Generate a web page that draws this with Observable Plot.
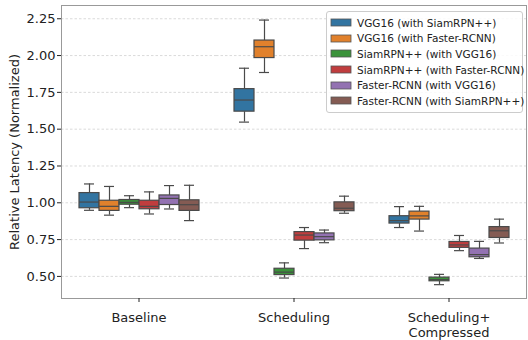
<!DOCTYPE html>
<html><head><meta charset="utf-8">
<script src="https://cdn.jsdelivr.net/npm/d3@7"></script>
<script src="https://cdn.jsdelivr.net/npm/@observablehq/plot@0.6"></script>
<style>
body{margin:0;background:#fff;font-family:"DejaVu Sans",sans-serif;}
#wrap{position:relative;width:528px;height:340px;}
#legend{position:absolute;left:326px;top:11px;width:197px;padding:3px 0 3px 4px;border:1px solid #ccc;border-radius:3px;background:rgba(255,255,255,0.85);box-sizing:border-box;font-family:"DejaVu Sans",sans-serif;font-size:10.5px;color:#222;}
#legend [class$="-swatch"]{height:15.6px;padding-bottom:0;margin:0;}
#legend *{overflow:visible !important;text-overflow:clip !important;white-space:nowrap;max-width:none !important;}
#legend svg{margin-right:6px;}
#legend svg rect{stroke:#555;stroke-width:0.8px;}
</style>
</head><body>
<div id="wrap"><div id="chart"></div><div id="legend"></div></div>
<script>
const groups = ["Baseline", "Scheduling", "Scheduling+\nCompressed"];
const series = ["VGG16 (with SiamRPN++)", "VGG16 (with Faster-RCNN)", "SiamRPN++ (with VGG16)", "SiamRPN++ (with Faster-RCNN)", "Faster-RCNN (with VGG16)", "Faster-RCNN (with SiamRPN++)"];
const colors = ["#3274a1", "#e1812c", "#3a923a", "#c03d3e", "#9372b2", "#845b53"];
const yTicks = [0.5, 0.75, 1.0, 1.25, 1.5, 1.75, 2.0, 2.25];

// [group][series]
const whiskerLow = [
  [0.949, 0.916, 0.967, 0.924, 0.958, 0.879],
  [1.548, 1.885, 0.489, 0.689, 0.729, 0.929],
  [0.832, 0.808, 0.444, 0.675, 0.622, 0.727]
];
const q1 = [
  [0.963, 0.945, 0.987, 0.956, 0.985, 0.945],
  [1.619, 1.983, 0.509, 0.743, 0.745, 0.943],
  [0.859, 0.886, 0.467, 0.694, 0.630, 0.761]
];
const medians = [
  [1.005, 0.976, 1.003, 0.976, 1.030, 0.987],
  [1.698, 2.060, 0.529, 0.781, 0.770, 0.963],
  [0.879, 0.911, 0.478, 0.714, 0.648, 0.810]
];
const q3 = [
  [1.066, 1.014, 1.019, 1.014, 1.050, 1.017],
  [1.772, 2.102, 0.552, 0.801, 0.792, 1.003],
  [0.909, 0.940, 0.492, 0.734, 0.689, 0.835]
];
const whiskerHigh = [
  [1.128, 1.111, 1.048, 1.074, 1.117, 1.119],
  [1.914, 2.241, 0.592, 0.832, 0.815, 1.045],
  [0.974, 0.976, 0.514, 0.778, 0.738, 0.889]
];

const rows = [];
groups.forEach((g, gi) => series.forEach((s, si) => rows.push({
  group: g, series: s,
  lo: whiskerLow[gi][si], q1: q1[gi][si], med: medians[gi][si], q3: q3[gi][si], hi: whiskerHigh[gi][si]
})));

const lineColor = "#4a4a4a";
const common = {fx: "group", x: "series"};

const plot = Plot.plot({
  width: 528, height: 340,
  marginLeft: 60, marginRight: 2, marginTop: 5, marginBottom: 42,
  style: {fontFamily: "DejaVu Sans, sans-serif", fontSize: "13px", color: "#222", background: "white"},
  fx: {domain: groups, padding: 0, label: null},
  x: {domain: series, paddingInner: 0.02, paddingOuter: 0.75, axis: null},
  y: {domain: [0.35, 2.34]},
  color: {domain: series, range: colors},
  marks: [
    Plot.gridY(yTicks, {stroke: "#d0d0d0", strokeOpacity: 1, strokeDasharray: "2.5,2", strokeWidth: 0.8}),
    Plot.frame({stroke: "#999", facet: "super"}),
    Plot.axisY(yTicks, {tickFormat: ".2f", fontSize: 13, label: "Relative Latency (Normalized)", labelAnchor: "center", labelArrow: "none", labelOffset: 52, tickSize: 4, tickPadding: 2}),
    Plot.axisFx({anchor: "bottom", fontSize: 13, label: null, tickSize: 4, tickPadding: 9, lineHeight: 1.15}),
    Plot.ruleX(rows, {...common, y1: "lo", y2: "q1", stroke: lineColor, strokeWidth: 1.2}),
    Plot.ruleX(rows, {...common, y1: "q3", y2: "hi", stroke: lineColor, strokeWidth: 1.2}),
    Plot.tickY(rows, {...common, y: "lo", stroke: lineColor, strokeWidth: 1.2, inset: 5}),
    Plot.tickY(rows, {...common, y: "hi", stroke: lineColor, strokeWidth: 1.2, inset: 5}),
    Plot.barY(rows, {...common, y1: "q1", y2: "q3", fill: "series", stroke: lineColor, strokeWidth: 1.2}),
    Plot.tickY(rows, {...common, y: "med", stroke: lineColor, strokeWidth: 1.2})
  ]
});
document.getElementById("chart").appendChild(plot);

const legend = Plot.legend({
  color: {domain: series, range: colors},
  columns: 1, swatchWidth: 20, swatchHeight: 7,
  style: {fontFamily: "DejaVu Sans, sans-serif", fontSize: "10.5px", marginLeft: "0px", marginBottom: "0px"}
});
document.getElementById("legend").appendChild(legend);
</script>
</body></html>
